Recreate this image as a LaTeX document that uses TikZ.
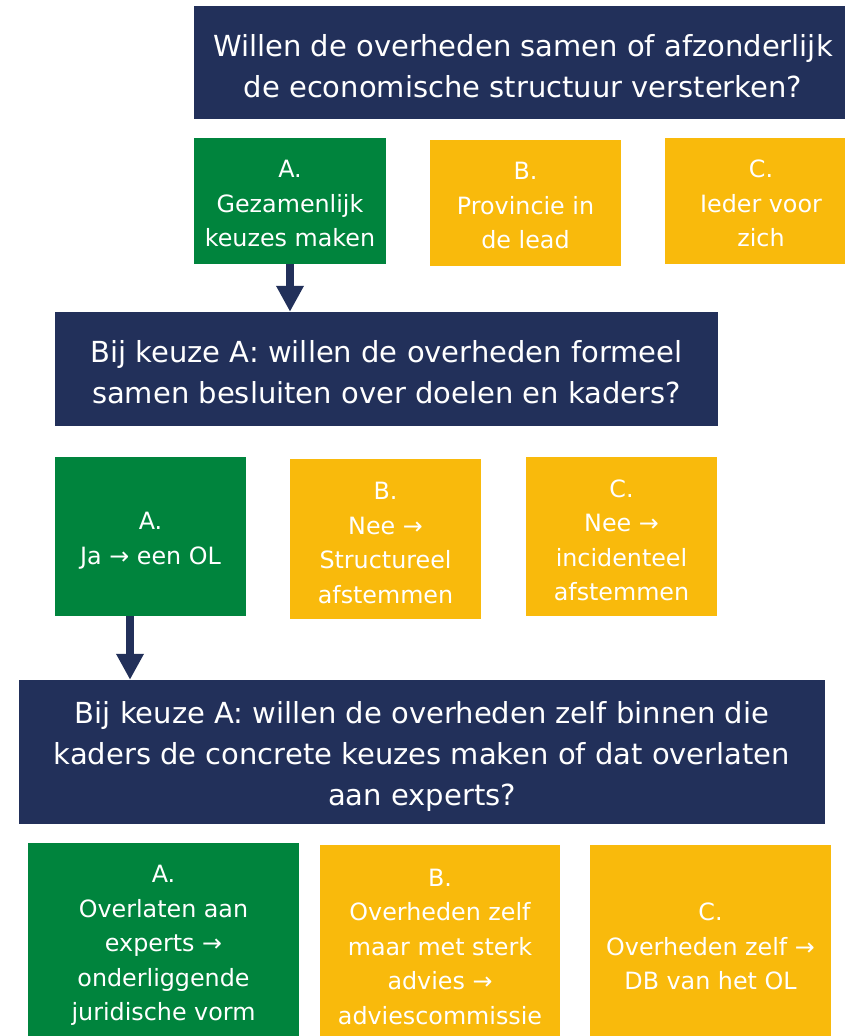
\documentclass[tikz,border=0pt]{standalone}
\usepackage{fontspec}
\setmainfont{DejaVu Sans}
\usetikzlibrary{arrows.meta}
\definecolor{navy}{RGB}{34,48,90}
\definecolor{okgreen}{RGB}{0,132,61}
\definecolor{amber}{RGB}{249,186,12}
\newcommand\liftq[1]{\rule{0pt}{\dimexpr 22pt+#1\relax}}
\newcommand\lifto[1]{\rule{0pt}{\dimexpr 17.3pt+#1\relax}}
\tikzset{
  qbox/.style={fill=navy, text=white, inner sep=0pt, align=center,
    font=\fontsize{29}{41}\selectfont},
  optbox/.style={inner sep=0pt, align=center, text=white,
    font=\fontsize{23.8}{34.5}\selectfont},
  chosen/.style={optbox, fill=okgreen},
  other/.style={optbox, fill=amber},
  bigarrow/.style={draw=navy, line width=8.5pt, -{Triangle[width=26pt,length=26pt]}}
}
\begin{document}
\begin{tikzpicture}[x=1pt,y=-1pt]
\useasboundingbox (0,0) rectangle (845,1036);
\begin{scope}
\clip (0,0) rectangle (845,1036);
% question 1
\node[qbox, minimum width=658pt, minimum height=113pt] (Q1) at (523,62.5)
  {\liftq{8pt}Willen de overheden samen of afzonderlijk\\de economische structuur versterken?};
\node[chosen, minimum width=192pt, minimum height=126pt] (A1) at (290,201)
  {\lifto{6pt}A.\\Gezamenlijk\\keuzes maken};
\node[other, minimum width=191pt, minimum height=126pt] (B1) at (525.5,203)
  {\lifto{6pt}B.\\Provincie in\\de lead};
\node[other, minimum width=192pt, minimum height=126pt] (C1) at (761,201)
  {\lifto{6pt}C.\\Ieder voor\\zich};
% question 2
\node[qbox, minimum width=663pt, minimum height=114pt] (Q2) at (386.5,369)
  {\liftq{6pt}Bij keuze A: willen de overheden formeel\\samen besluiten over doelen en kaders?};
\node[chosen, minimum width=191pt, minimum height=159pt] (A2) at (150.5,536.5)
  {\lifto{8pt}A.\\Ja → een OL};
\node[other, minimum width=191pt, minimum height=160pt] (B2) at (385.5,539)
  {\lifto{8pt}B.\\Nee →\\Structureel\\afstemmen};
\node[other, minimum width=191pt, minimum height=159pt] (C2) at (621.5,536.5)
  {\lifto{8pt}C.\\Nee →\\incidenteel\\afstemmen};
% question 3
\node[qbox, minimum width=806pt, minimum height=144pt] (Q3) at (422,752)
  {\liftq{10pt}Bij keuze A: willen de overheden zelf binnen die\\kaders de concrete keuzes maken of dat overlaten\\aan experts?};
\node[chosen, minimum width=271pt, minimum height=205pt] (A3) at (163.5,945.5)
  {A.\\Overlaten aan\\experts →\\onderliggende\\juridische vorm};
\node[other, minimum width=240pt, minimum height=203pt] (B3) at (440,946.5)
  {B.\\Overheden zelf\\maar met sterk\\advies →\\adviescommissie};
\node[other, minimum width=241pt, minimum height=203pt] (C3) at (710.5,946.5)
  {C.\\Overheden zelf →\\DB van het OL};
% arrows
\draw[bigarrow] (A1.south) -- (Q2.north -| A1.south);
\draw[bigarrow] ([xshift=-20.5pt]A2.south) -- ([xshift=-20.5pt]A2.south |- Q3.north);
\end{scope}
\end{tikzpicture}
\end{document}
